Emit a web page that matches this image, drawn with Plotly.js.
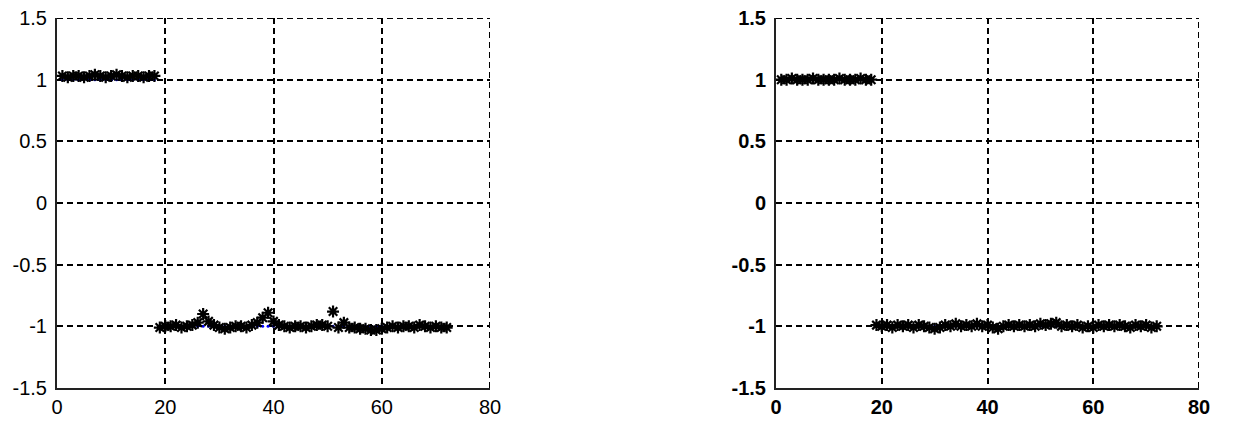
<!DOCTYPE html>
<html>
<head>
<meta charset="utf-8">
<script src="https://cdn.plot.ly/plotly-3.0.1.min.js"></script>
<style>html,body{margin:0;padding:0;background:#fff;}#chart{width:1237px;height:421px;}</style>
</head>
<body>
<div id="chart"></div>
<script>
// sample index
const sampleIdx = Array.from({length: 72}, (_, i) => i + 1);
// true class labels (blue dots)
const trueLabels = sampleIdx.map(i => (i <= 18 ? 1 : -1));
// left panel predicted outputs (black asterisks)
const leftPred = [
  1.03,1.02,1.03,1.03,1.02,1.03,1.04,1.03,1.02,1.03,1.04,1.03,1.02,1.03,1.03,1.02,1.03,1.03,
  -1.01,-1.00,-1.00,-0.99,-1.01,-1.00,-0.99,-0.97,-0.90,-0.96,-0.99,-1.01,-1.02,-1.01,-1.00,-1.00,
  -1.01,-0.99,-0.97,-0.93,-0.89,-0.96,-0.99,-1.00,-1.01,-1.00,-1.00,-1.01,-1.00,-0.99,-0.99,-1.00,
  -0.88,-1.01,-0.97,-1.01,-1.01,-1.02,-1.02,-1.03,-1.03,-1.02,-1.01,-1.00,-1.01,-1.00,-1.00,-1.01,
  -0.99,-1.00,-1.01,-1.00,-1.01,-1.01
];
// right panel predicted outputs
const rightPred = [
  1.00,1.00,1.01,1.00,1.00,1.00,1.01,1.00,1.00,1.00,1.00,1.01,1.00,1.00,1.00,1.01,1.00,1.00,
  -0.99,-1.00,-0.99,-1.01,-0.99,-1.00,-0.99,-1.01,-0.99,-1.00,-1.01,-1.02,-1.01,-0.99,-1.00,-0.98,
  -1.00,-0.99,-1.00,-0.98,-1.00,-0.99,-1.01,-1.02,-1.00,-0.99,-1.00,-0.99,-1.00,-0.99,-1.00,-0.98,
  -0.99,-0.98,-0.97,-1.00,-0.99,-1.00,-0.99,-1.01,-1.00,-1.01,-0.99,-1.00,-0.99,-1.00,-0.99,-1.00,
  -1.01,-0.99,-1.00,-0.99,-1.01,-1.00
];
// tick labels
const xTickVals = [0, 20, 40, 60, 80];
const xTickText = ['0', '20', '40', '60', '80'];
const yTickVals = [-1.5, -1, -0.5, 0, 0.5, 1, 1.5];
const yTickText = ['-1.5', '-1', '-0.5', '0', '0.5', '1', '1.5'];
const xMax = 80, yMin = -1.5, yMax = 1.5;

const DASH = '6px,4px';
const blueStyle = {mode: 'markers', marker: {symbol: 'circle', size: 3, color: '#0000ff'}, hoverinfo: 'skip'};
const blackStyle = {mode: 'markers', marker: {symbol: 'asterisk-open', size: 10, color: '#000', line: {color: '#000', width: 2.2}}};

const data = [
  Object.assign({x: sampleIdx, y: trueLabels, xaxis: 'x', yaxis: 'y'}, blueStyle),
  Object.assign({x: sampleIdx, y: leftPred, xaxis: 'x', yaxis: 'y'}, blackStyle),
  Object.assign({x: sampleIdx, y: trueLabels, xaxis: 'x2', yaxis: 'y2'}, blueStyle),
  Object.assign({x: sampleIdx, y: rightPred, xaxis: 'x2', yaxis: 'y2'}, blackStyle)
];

function xAxis(domain, anchor, bold) {
  return {
    domain: domain, anchor: anchor, range: [0, xMax], tickmode: 'array',
    tickvals: xTickVals, ticktext: xTickText, showline: true, linecolor: '#222', linewidth: 2,
    showgrid: true, gridcolor: '#000', gridwidth: 2, griddash: DASH, zeroline: false,
    ticks: '', ticklabelstandoff: 0,
    tickfont: {family: 'Liberation Sans, Arial, sans-serif', size: 20, color: '#000', weight: bold ? 'bold' : 'normal'}
  };
}
function yAxis(domain, anchor, bold) {
  return {
    domain: domain, anchor: anchor, range: [yMin, yMax], tickmode: 'array',
    tickvals: yTickVals, ticktext: yTickText, showline: true, linecolor: '#222', linewidth: 2,
    showgrid: true, gridcolor: '#000', gridwidth: 2, griddash: DASH, zeroline: false,
    ticks: '', ticklabelstandoff: 4,
    tickfont: {family: 'Liberation Sans, Arial, sans-serif', size: 20, color: '#000', weight: bold ? 'bold' : 'normal'}
  };
}

// edge grid lines (top and right) that Plotly omits at range boundaries
function edgeGrid(xr, yr) {
  const line = {color: '#000', width: 2, dash: DASH};
  return [
    {type: 'line', xref: xr, yref: yr, x0: 0, x1: xMax, y0: yMax, y1: yMax, line: line, layer: 'below'},
    {type: 'line', xref: xr, yref: yr, x0: xMax, x1: xMax, y0: yMin, y1: yMax, line: line, layer: 'below'}
  ];
}

const layout = {
  width: 1237, height: 421,
  margin: {l: 0, r: 0, t: 18, b: 33},
  paper_bgcolor: '#fff', plot_bgcolor: '#fff',
  showlegend: false,
  xaxis: xAxis([57/1237, 490/1237], 'y', false),
  yaxis: yAxis([0, 1], 'x', false),
  xaxis2: xAxis([776/1237, 1199/1237], 'y2', true),
  yaxis2: yAxis([0, 1], 'x2', true),
  shapes: edgeGrid('x', 'y').concat(edgeGrid('x2', 'y2'))
};

Plotly.newPlot('chart', data, layout, {displayModeBar: false, staticPlot: true});
</script>
</body>
</html>
